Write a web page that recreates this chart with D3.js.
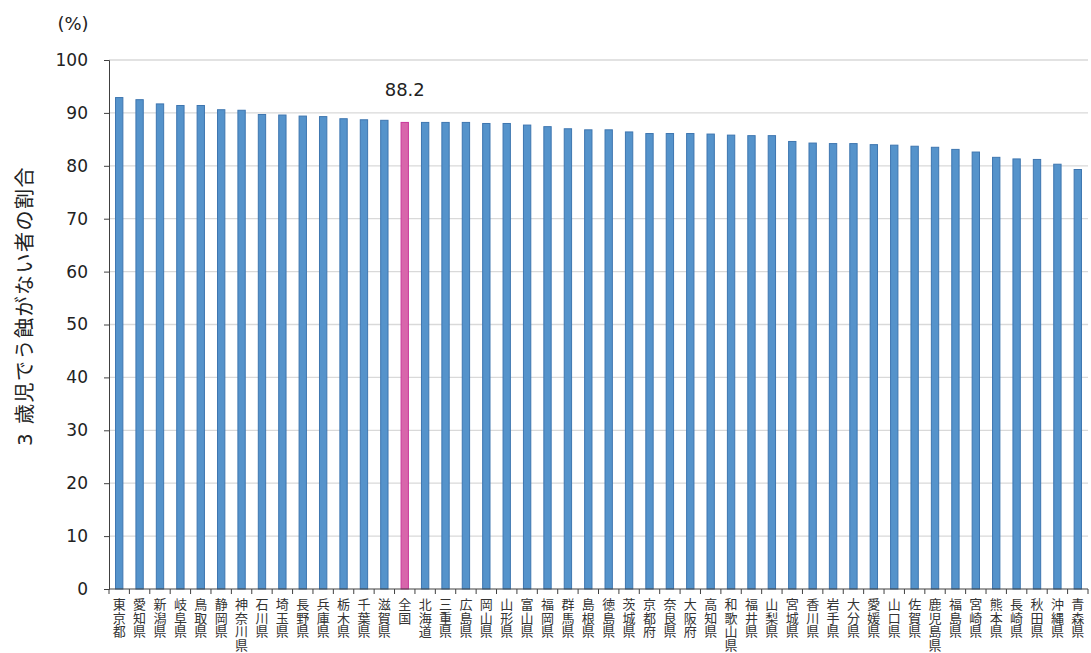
<!DOCTYPE html>
<html>
<head>
<meta charset="utf-8">
<script src="https://cdn.jsdelivr.net/npm/d3@7"></script>
<style>
  body { margin: 0; background: #fff; }
  text { font-family: "DejaVu Sans", "Noto Sans CJK JP", sans-serif; }
</style>
</head>
<body>
<svg id="chart" width="1091" height="653"></svg>
<script>
// prefectures, sorted by value
const prefectures = ['東京都', '愛知県', '新潟県', '岐阜県', '鳥取県', '静岡県', '神奈川県', '石川県',
  '埼玉県', '長野県', '兵庫県', '栃木県', '千葉県', '滋賀県', '全国', '北海道', '三重県', '広島県',
  '岡山県', '山形県', '富山県', '福岡県', '群馬県', '島根県', '徳島県', '茨城県', '京都府', '奈良県',
  '大阪府', '高知県', '和歌山県', '福井県', '山梨県', '宮城県', '香川県', '岩手県', '大分県', '愛媛県',
  '山口県', '佐賀県', '鹿児島県', '福島県', '宮崎県', '熊本県', '長崎県', '秋田県', '沖縄県', '青森県'];
const rates = [92.9, 92.5, 91.7, 91.4, 91.4, 90.6, 90.5, 89.7, 89.6, 89.4, 89.3, 88.9, 88.7, 88.6,
  88.2, 88.2, 88.2, 88.2, 88.0, 88.0, 87.7, 87.4, 87.0, 86.8, 86.8, 86.4, 86.1, 86.1, 86.1, 86.0, 85.8,
  85.7, 85.7, 84.6, 84.3, 84.2, 84.2, 84.0, 83.9, 83.7, 83.5, 83.1, 82.6, 81.6, 81.3, 81.2, 80.3, 79.3];
const highlight = '全国';
const yTicks = [0, 10, 20, 30, 40, 50, 60, 70, 80, 90, 100];

const data = prefectures.map((p, i) => ({ name: p, value: rates[i] }));

const margin = { top: 60, right: 3, bottom: 64, left: 109 };
const width = 1091, height = 653;
const svg = d3.select('#chart');

const x = d3.scaleBand()
  .domain(prefectures)
  .range([margin.left, width - margin.right])
  .paddingInner(0.64)
  .paddingOuter(0.32);

const y = d3.scaleLinear()
  .domain([0, 100])
  .range([height - margin.bottom, margin.top]);

// gridlines
svg.append('g')
  .selectAll('line')
  .data(yTicks.filter(d => d > 0))
  .join('line')
  .attr('x1', margin.left)
  .attr('x2', width - margin.right)
  .attr('y1', d => y(d))
  .attr('y2', d => y(d))
  .attr('stroke', '#d9d9d9')
  .attr('stroke-width', 1.3);

// bars
svg.append('g')
  .selectAll('rect')
  .data(data)
  .join('rect')
  .attr('x', d => x(d.name))
  .attr('y', d => y(d.value))
  .attr('width', x.bandwidth())
  .attr('height', d => y(0) - y(d.value))
  .attr('fill', d => d.name === highlight ? '#d866ab' : '#5593cb')
  .attr('stroke', d => d.name === highlight ? '#c9379a' : '#3e76b0')
  .attr('stroke-width', 1);

// y axis
const yAxis = svg.append('g')
  .attr('transform', `translate(${margin.left},0)`)
  .call(d3.axisLeft(y).tickValues(yTicks).tickSize(5).tickPadding(16));
yAxis.select('.domain').attr('stroke', '#404040');
yAxis.selectAll('.tick line').attr('stroke', '#404040');
yAxis.selectAll('.tick text').attr('font-size', 17).attr('fill', '#222');

// x axis line and boundary ticks
svg.append('line')
  .attr('x1', margin.left).attr('x2', width - margin.right)
  .attr('y1', y(0)).attr('y2', y(0))
  .attr('stroke', '#404040');
const step = x.step();
svg.append('g')
  .selectAll('line')
  .data(d3.range(prefectures.length + 1))
  .join('line')
  .attr('x1', i => margin.left + i * step)
  .attr('x2', i => margin.left + i * step)
  .attr('y1', y(0))
  .attr('y2', y(0) + 5)
  .attr('stroke', '#404040');

// vertical category labels
const labels = svg.append('g')
  .selectAll('text')
  .data(prefectures)
  .join('text')
  .attr('font-size', 13)
  .attr('fill', '#333')
  .attr('text-anchor', 'middle');
labels.each(function (name) {
  const t = d3.select(this);
  const cx = x(name) + x.bandwidth() / 2;
  Array.from(name).forEach((ch, j) => {
    t.append('tspan')
      .attr('x', cx)
      .attr('y', 609 + j * 13.6)
      .text(ch);
  });
});

// data label for highlight
const hl = data.find(d => d.name === highlight);
svg.append('text')
  .attr('x', x(hl.name) + x.bandwidth() / 2)
  .attr('y', y(hl.value) - 26)
  .attr('text-anchor', 'middle')
  .attr('font-size', 18)
  .attr('fill', '#222')
  .text(hl.value.toFixed(1));

// unit label
svg.append('text')
  .attr('x', 73).attr('y', 30)
  .attr('text-anchor', 'middle')
  .attr('font-size', 18)
  .attr('fill', '#222')
  .text('(%)');

// y axis title
svg.append('text')
  .attr('transform', `translate(32, 306) rotate(-90)`)
  .attr('text-anchor', 'middle')
  .attr('font-size', 20)
  .attr('letter-spacing', 1.5)
  .attr('fill', '#222')
  .text('3 歳児でう蝕がない者の割合');
</script>
</body>
</html>
